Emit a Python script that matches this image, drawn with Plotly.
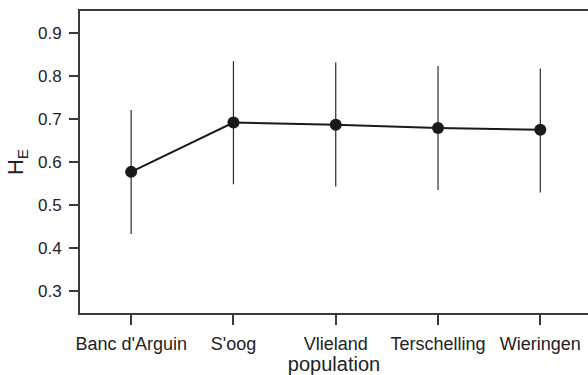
import plotly.graph_objects as go

populations = ["Banc d'Arguin", "S'oog", "Vlieland", "Terschelling", "Wieringen"]
he_mean = [0.577, 0.692, 0.687, 0.679, 0.675]
he_upper = [0.721, 0.835, 0.832, 0.824, 0.818]
he_lower = [0.432, 0.548, 0.543, 0.535, 0.529]
y_ticks = [0.3, 0.4, 0.5, 0.6, 0.7, 0.8, 0.9]

err_plus = [u - m for u, m in zip(he_upper, he_mean)]
err_minus = [m - l for m, l in zip(he_mean, he_lower)]
xi = list(range(len(populations)))

FONT = "Liberation Sans"
AX = "#3a3a3a"

fig = go.Figure()
fig.add_trace(go.Scatter(
    x=xi, y=he_mean, mode="lines+markers",
    line=dict(color="#1a1a1a", width=2),
    marker=dict(color="#1a1a1a", size=12),
    error_y=dict(type="data", symmetric=False, array=err_plus, arrayminus=err_minus,
                 color="#2a2a2a", thickness=1.2, width=0),
    showlegend=False,
))

fig.update_layout(
    width=588, height=375,
    margin=dict(l=80, r=0, t=11, b=62),
    paper_bgcolor="white", plot_bgcolor="white",
    font=dict(family=FONT, size=18, color="#222"),
    xaxis=dict(
        range=[-0.5, 4.466], tickmode="array", tickvals=xi, ticktext=populations,
        showgrid=False, zeroline=False, showline=True, linecolor=AX, linewidth=2,
        mirror=True, ticks="outside", ticklen=10, tickwidth=1.5, tickcolor=AX,
        ticklabelstandoff=3, automargin=False,
        title=dict(text="population", standoff=3, font=dict(size=20)),
        tickfont=dict(size=18),
    ),
    yaxis=dict(
        range=[0.248, 0.952], tickmode="array", tickvals=y_ticks,
        ticktext=[f"{v:.1f}" for v in y_ticks],
        showgrid=False, zeroline=False, showline=True, linecolor=AX, linewidth=2,
        ticks="outside", ticklen=9, tickwidth=1.5, tickcolor=AX,
        ticklabelstandoff=4, automargin=False,
        title=dict(text="H<sub>E</sub>", standoff=8, font=dict(size=22)),
        tickfont=dict(size=17),
    ),
)

fig.write_html("out.html")
